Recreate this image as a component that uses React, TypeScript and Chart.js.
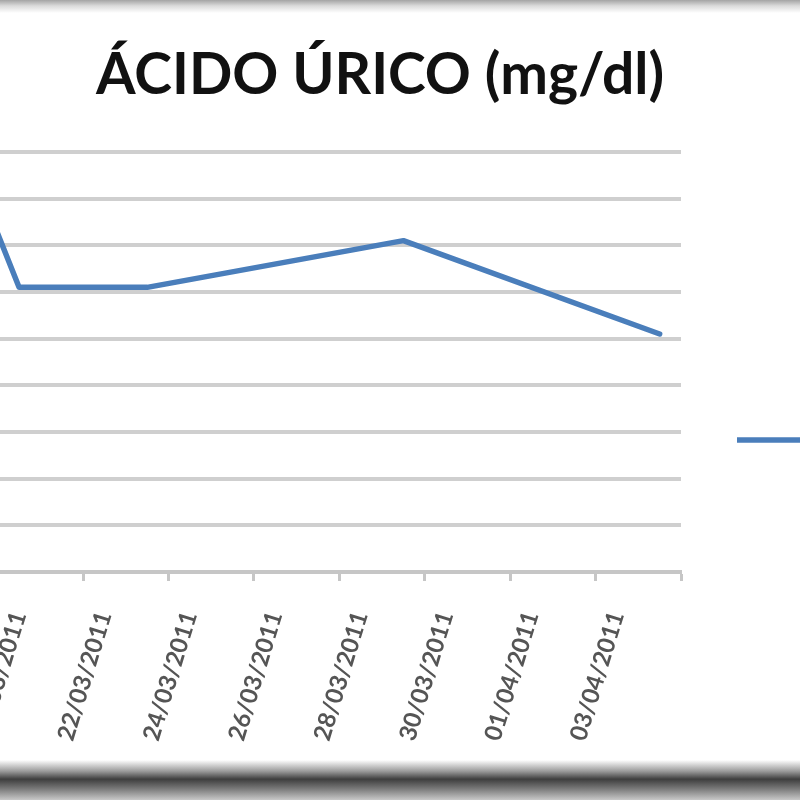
import React, { useEffect, useRef } from 'react';
import { Chart, registerables } from 'chart.js';

Chart.register(...registerables);

const chartTitle = 'ÁCIDO ÚRICO (mg/dl)';
const seriesName = 'Serie1';

const dates = [
  '19/03/2011', '20/03/2011', '21/03/2011', '22/03/2011', '23/03/2011',
  '24/03/2011', '25/03/2011', '26/03/2011', '27/03/2011', '28/03/2011',
  '29/03/2011', '30/03/2011', '31/03/2011', '01/04/2011', '02/04/2011',
  '03/04/2011', '04/04/2011',
];

const uricAcid: (number | null)[] = [
  8.4, 6.1, null, null, 6.1,
  null, null, null, null, null,
  7.1, null, null, null, null,
  null, 5.1,
];

const yMin = 0;
const yMax = 9;
const yStep = 1;

export default function App() {
  const canvasRef = useRef<HTMLCanvasElement | null>(null);

  useEffect(() => {
    if (!canvasRef.current) return;
    const grey = '#c6c6c6';
    const chart = new Chart(canvasRef.current, {
      type: 'line',
      data: {
        labels: dates,
        datasets: [
          {
            label: seriesName,
            data: uricAcid,
            borderColor: '#4a7ebb',
            backgroundColor: '#4a7ebb',
            borderWidth: 5.5,
            pointRadius: 0,
            pointHoverRadius: 0,
            spanGaps: true,
            tension: 0,
            borderJoinStyle: 'round',
            borderCapStyle: 'round',
          },
        ],
      },
      options: {
        animation: false,
        responsive: false,
        devicePixelRatio: 1,
        layout: { padding: 0 },
        plugins: {
          title: {
            display: true,
            text: chartTitle,
            color: '#111111',
            font: { family: 'Lato', size: 57, weight: 'bold', lineHeight: 1.2 },
            padding: { top: 41.5, bottom: 42.1 },
          },
          legend: {
            display: true,
            position: 'right',
            maxWidth: 199,
            labels: {
              usePointStyle: true,
              pointStyle: 'line',
              pointStyleWidth: 70,
              padding: 56,
              color: '#595959',
              font: { family: 'Lato', size: 24 },
            },
          },
          tooltip: { enabled: false },
        },
        scales: {
          x: {
            type: 'category',
            offset: true,
            afterFit: (scale: any) => {
              scale.height = 308;
            },
            grid: {
              display: true,
              offset: true,
              drawOnChartArea: false,
              drawTicks: true,
              tickLength: 9,
              tickWidth: 3,
              color: grey,
              tickColor: (c: any) =>
                c.index === undefined || c.index % 2 === 1 ? grey : 'rgba(0,0,0,0)',
            },
            border: { display: true, color: grey, width: 4 },
            ticks: {
              autoSkip: false,
              minRotation: 73,
              maxRotation: 73,
              padding: 27,
              color: '#555555',
              font: { family: 'Lato', size: 24, weight: 'bold' },
              callback: (_v: any, i: number) => (i % 2 === 1 ? dates[i] : ''),
            },
          },
          y: {
            min: yMin,
            max: yMax,
            afterFit: (scale: any) => {
              scale.width = 75;
            },
            grid: {
              color: '#cfcfcf',
              lineWidth: 4,
              drawTicks: false,
            },
            border: { display: false },
            ticks: {
              stepSize: yStep,
              padding: 12,
              color: '#595959',
              font: { family: 'Lato', size: 24, weight: 'bold' },
            },
          },
        },
      },
    });
    return () => chart.destroy();
  }, []);

  return (
    <div
      style={{
        position: 'fixed',
        left: 0,
        top: 0,
        width: 800,
        height: 800,
        overflow: 'hidden',
        background: '#ffffff',
      }}
    >
      <canvas
        ref={canvasRef}
        width={1000}
        height={880}
        style={{ position: 'absolute', left: -120, top: 0, width: 1000, height: 880 }}
      />
      <div
        style={{
          position: 'absolute',
          left: 0,
          top: 0,
          width: 800,
          height: 13,
          background: 'linear-gradient(to bottom, #a4a4a4 0%, #dadada 45%, #ffffff 100%)',
        }}
      />
      <div
        style={{
          position: 'absolute',
          left: 0,
          top: 760,
          width: 800,
          height: 40,
          background:
            'linear-gradient(to bottom, #ffffff 0%, #9a9a9a 28%, #3e3e3e 48%, #7a7a7a 72%, #c8c8c8 100%)',
        }}
      />
    </div>
  );
}
